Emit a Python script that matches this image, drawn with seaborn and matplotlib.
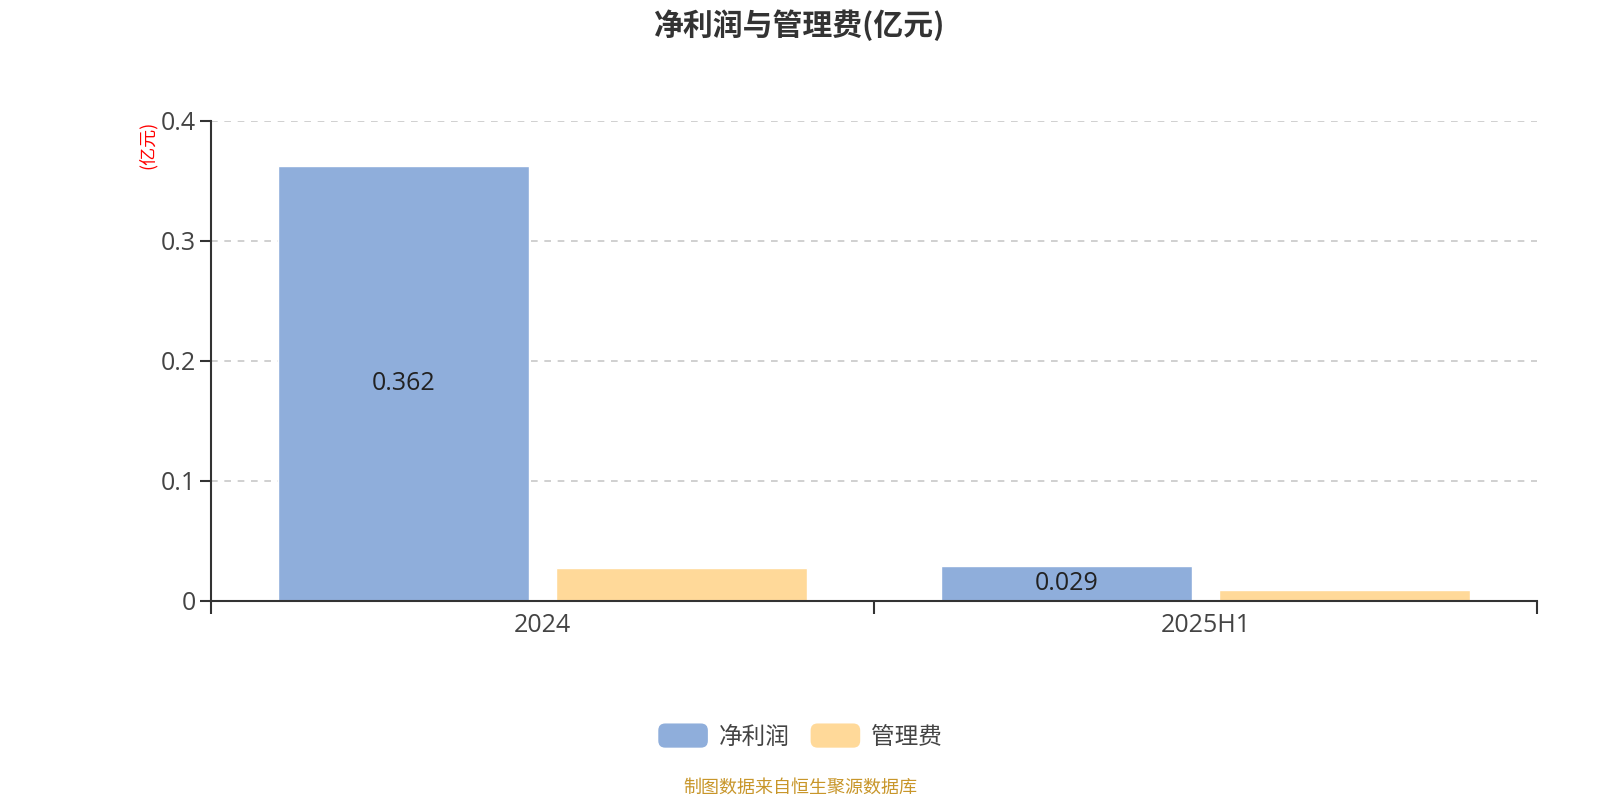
import matplotlib
matplotlib.use("Agg")
import matplotlib.pyplot as plt
import seaborn as sns
import pandas as pd
from matplotlib.patches import FancyBboxPatch
from matplotlib.legend_handler import HandlerPatch

categories = ["2024", "2025H1"]
series_names = ["净利润", "管理费"]
net_profit = [0.362, 0.029]
admin_fee = [0.027, 0.009]
y_ticks = [0, 0.1, 0.2, 0.3, 0.4]
y_tick_labels = ["0", "0.1", "0.2", "0.3", "0.4"]
colors = ["#8FAEDB", "#FFD999"]

sns.set_theme(style="white")
plt.rcParams['font.family'] = ['Open Sans', 'Noto Sans CJK SC', 'DejaVu Sans']
CJK = ['Noto Sans CJK SC', 'DejaVu Sans']

df = pd.DataFrame({
    "期间": categories * 2,
    "指标": [series_names[0]] * len(categories) + [series_names[1]] * len(categories),
    "值": net_profit + admin_fee,
})

fig = plt.figure(figsize=(16, 8), dpi=100)
ax = fig.add_axes([0.1319, 0.249, 0.8287, 0.6])

sns.barplot(data=df, x="期间", y="值", hue="指标", palette=colors, width=0.84,
            gap=0.1, ax=ax, saturation=1, legend=True, errorbar=None)

ax.set_ylim(0, 0.4)
ax.set_xlim(-0.5, len(categories) - 0.5)
ax.set_yticks(y_ticks)
ax.set_yticklabels(y_tick_labels)
ax.yaxis.grid(True, linestyle=(0, (4, 4)), color="#c8c8c8", linewidth=1.2)
ax.set_axisbelow(True)
for s in ["top", "right"]:
    ax.spines[s].set_visible(False)
for s in ["left", "bottom"]:
    ax.spines[s].set_color("#333333")
    ax.spines[s].set_linewidth(1.5)

# x ticks at category boundaries, labels at centres
ax.set_xticks([i - 0.5 for i in range(len(categories) + 1)], minor=False)
ax.set_xticklabels([""] * (len(categories) + 1))
ax.set_xticks(range(len(categories)), minor=True)
ax.set_xticklabels(categories, minor=True)
ax.tick_params(axis="x", which="major", length=9, width=1.5, color="#333333", direction="out", bottom=True)
ax.tick_params(axis="x", which="minor", length=0, labelsize=18, labelcolor="#444444", pad=9)
ax.tick_params(axis="y", length=8, width=1.5, color="#333333", direction="out", left=True,
               labelsize=18, labelcolor="#444444", pad=3)

ax.set_xlabel("")
ax.set_ylabel("")

# value labels in net profit bars
ax.bar_label(ax.containers[0], labels=[f"{v:.3f}" for v in net_profit], label_type="center",
             fontsize=18, color="#222222")

fig.text(0.0925, 0.819, "(亿元)", rotation=90, color="red", fontsize=13, ha="center", va="center",
         family=CJK)

fig.text(0.5, 0.968, "净利润与管理费(亿元)", fontsize=21.5, fontweight="bold", color="#333333",
         ha="center", va="center", family=CJK)


class RoundHandler(HandlerPatch):
    def create_artists(self, legend, orig_handle, xdescent, ydescent, width, height, fontsize, trans):
        p = FancyBboxPatch((-xdescent, -ydescent), width, height,
                           boxstyle="round,pad=0,rounding_size=5",
                           facecolor=orig_handle.get_facecolor(), edgecolor="none",
                           transform=trans)
        return [p]


handles, labels = ax.get_legend_handles_labels()
ax.get_legend().remove()
fig.legend(handles, labels, loc="center", bbox_to_anchor=(0.5, 0.08), ncol=2, frameon=False,
           prop={"family": CJK, "size": 17}, handlelength=2.1, handleheight=1.2, handletextpad=0.45,
           columnspacing=0.9, labelcolor="#444444",
           handler_map={h: RoundHandler() for h in handles})

fig.text(0.5, 0.015, "制图数据来自恒生聚源数据库", color="#C8962A", fontsize=13, ha="center", va="center",
         family=CJK)

fig.savefig("out.png", dpi=100)
